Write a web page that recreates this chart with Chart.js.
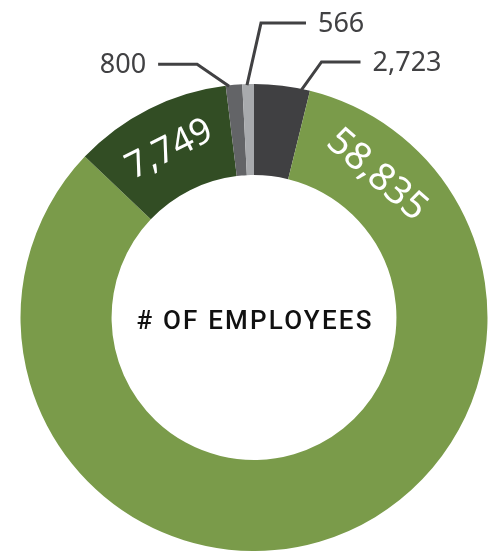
<!DOCTYPE html>
<html>
<head>
<meta charset="utf-8">
<script src="https://cdn.jsdelivr.net/npm/chart.js@4/dist/chart.umd.min.js"></script>
<style>
    html, body { margin: 0; padding: 0; background: #ffffff; }
    #wrap { width: 492px; height: 551px; }
</style>
</head>
<body>
<div id="wrap"><canvas id="chart" width="492" height="551"></canvas></div>
<script>

/* ---------- Data ---------- */

// clockwise from 12 o'clock
const categories = ["Group A", "Group B", "Group C", "Group D", "Group E"];
const employees = [2723, 58835, 7749, 800, 566];
const valueLabels = ["2,723", "58,835", "7,749", "800", "566"];
const centerTitle = "# OF EMPLOYEES";

/* ---------- Styles ---------- */

const sliceColors = ["#404042", "#7a9b4a", "#324d24", "#636467", "#a8aaad"];
const labelFont = "'Noto Sans', sans-serif";
const titleFont = "Roboto, sans-serif";
const labelColor = "#414143";

// white labels drawn along the ring
const insideLabels = {
    1: { offset: 0.47, size: 38 },    // radians from slice start
    2: { offset: null, size: 36 }     // null = middle of slice
};

// grey labels with elbow leader lines
const outsideLabels = {
    0: { at: 0.85, elbow: [20, -28], run: 39 },
    3: { at: 0.2, elbow: [-32, -22], run: -39 },
    4: { at: 0.4, elbow: [14, -62], run: 45 }
};

/* ---------- Plugin ---------- */

const labelsPlugin = {
    id: "doughnutLabels",
    afterDatasetsDraw(chart) {

        const ctx = chart.ctx;
        const arcs = chart.getDatasetMeta(0).data;

        ctx.save();

        arcs.forEach((arc, i) => {

            const { x, y, startAngle, endAngle, innerRadius, outerRadius } =
                arc.getProps(["x", "y", "startAngle", "endAngle", "innerRadius", "outerRadius"], true);

            const inside = insideLabels[i];
            if (inside) {
                const a = inside.offset === null
                    ? (startAngle + endAngle) / 2
                    : startAngle + inside.offset;
                const r = (innerRadius + outerRadius) / 2;
                ctx.save();
                ctx.translate(x + Math.cos(a) * r, y + Math.sin(a) * r);
                ctx.rotate(a + Math.PI / 2);
                ctx.fillStyle = "#ffffff";
                ctx.font = "400 " + inside.size + "px " + labelFont;
                ctx.textAlign = "center";
                ctx.textBaseline = "middle";
                ctx.fillText(valueLabels[i], 0, 0);
                ctx.restore();
            }

            const outside = outsideLabels[i];
            if (outside) {
                const a = startAngle + (endAngle - startAngle) * outside.at;
                const px = x + Math.cos(a) * (outerRadius - 1);
                const py = y + Math.sin(a) * (outerRadius - 1);
                const ex = px + outside.elbow[0];
                const ey = py + outside.elbow[1];
                const hx = ex + outside.run;

                ctx.strokeStyle = labelColor;
                ctx.lineWidth = 3;
                ctx.lineJoin = "miter";
                ctx.beginPath();
                ctx.moveTo(px, py);
                ctx.lineTo(ex, ey);
                ctx.lineTo(hx, ey);
                ctx.stroke();

                ctx.fillStyle = labelColor;
                ctx.font = "400 27px " + labelFont;
                ctx.textBaseline = "middle";
                ctx.textAlign = outside.run > 0 ? "left" : "right";
                ctx.fillText(valueLabels[i], hx + (outside.run > 0 ? 12 : -12), ey + 1);
            }

        });

        // centre title
        const first = arcs[0];
        ctx.fillStyle = "#111111";
        ctx.font = "500 26px " + titleFont;
        ctx.letterSpacing = "2.2px";
        ctx.textAlign = "center";
        ctx.textBaseline = "middle";
        ctx.fillText(centerTitle, first.x + 1, first.y + 5);

        ctx.restore();

    }
};

/* ---------- Chart ---------- */

new Chart(document.getElementById("chart"), {
    type: "doughnut",
    data: {
        labels: categories,
        datasets: [{
            data: employees,
            backgroundColor: sliceColors,
            borderWidth: 0,
            hoverOffset: 0
        }]
    },
    options: {
        responsive: false,
        animation: false,
        cutout: "61%",
        rotation: 0,
        layout: { padding: { left: 20, right: 4, top: 84, bottom: 0 } },
        plugins: {
            legend: { display: false },
            tooltip: { enabled: false }
        }
    },
    plugins: [labelsPlugin]
});

</script>
</body>
</html>
